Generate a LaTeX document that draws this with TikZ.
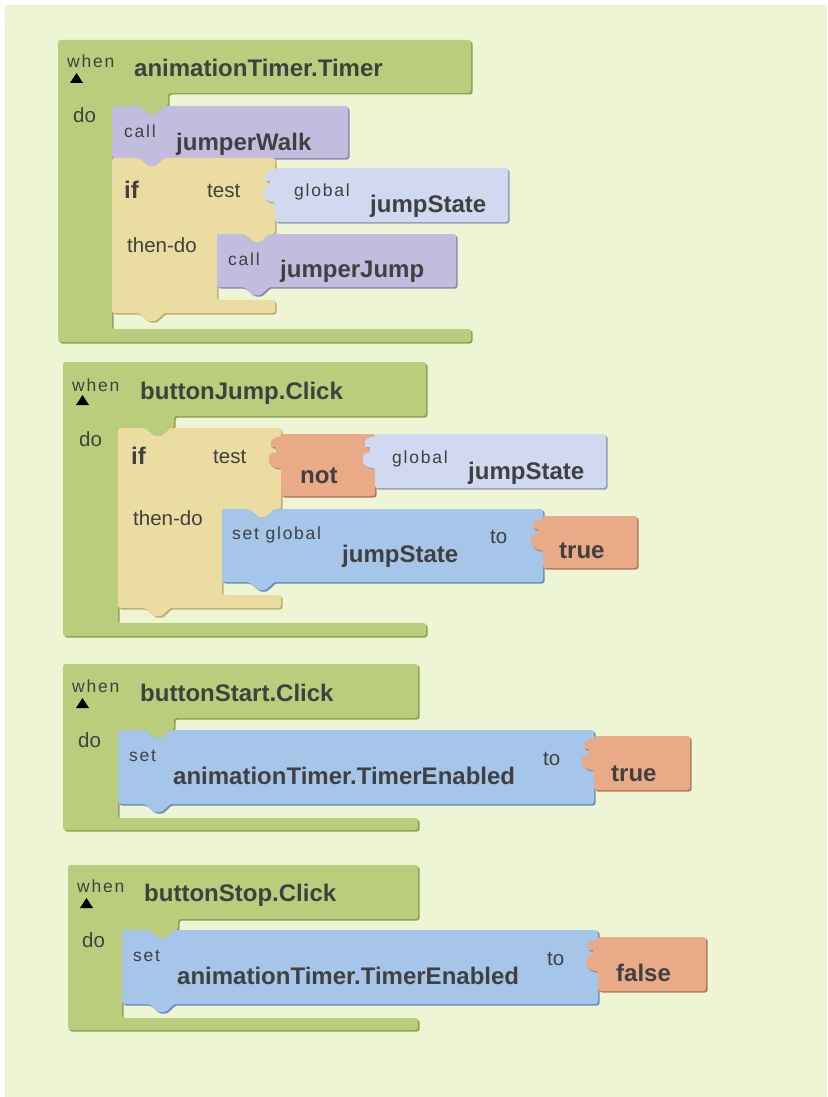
\documentclass[tikz,border=0pt]{standalone}
\usepackage{fontspec}
\setmainfont{Liberation Sans}
\newfontfamily\spacedfont[LetterSpace=10]{Liberation Sans}

\definecolor{canvas}{HTML}{EDF5D4}
\definecolor{lbl}{HTML}{404040}
\definecolor{evtgreen}{HTML}{BACD7C}
\definecolor{evtgreenD}{HTML}{8CA152}
\definecolor{procpurple}{HTML}{C2BDDF}
\definecolor{procpurpleD}{HTML}{8E89B2}
\definecolor{ctlyellow}{HTML}{EBDCA2}
\definecolor{ctlyellowD}{HTML}{BDAD6E}
\definecolor{varblue}{HTML}{D0D9EF}
\definecolor{varblueD}{HTML}{8E9BBA}
\definecolor{setblue}{HTML}{A5C5E9}
\definecolor{setblueD}{HTML}{6A8DB8}
\definecolor{logorange}{HTML}{E9AB87}
\definecolor{logorangeD}{HTML}{B0785A}

\tikzset{
  block/.style={rounded corners=2.5pt},
  kw/.style={text=lbl, inner sep=0pt, anchor=base west, font=\fontsize{20.5}{20.5}\selectfont},
  smalltag/.style={text=lbl, inner sep=0pt, anchor=base west, font=\spacedfont\fontsize{17.5}{17.5}\selectfont},
  ident/.style={text=lbl, inner sep=0pt, anchor=base west, font=\bfseries\fontsize{24}{24}\selectfont},
  whenmark/.style={fill=black}
}

% colour, x, y, path
\newcommand{\shadedpath}[4]{%
  \fill[block,#1D,shift={(#2+1.5,#3+1.5)}] #4;
  \fill[block,#1,shift={(#2,#3)}] #4;
}
% colour, x, y, w, h
\newcommand{\stmtblock}[5]{%
  \shadedpath{#1}{#2}{#3}{(0,0) -- (22,0) .. controls (30,0) and (34,8) .. (40,8) .. controls (46,8) and (50,0) .. (56,0)
    -- (#4,0) -- (#4,#5) -- (56,#5) .. controls (50,#5) and (46,#5+8) .. (40,#5+8) .. controls (34,#5+8) and (30,#5) .. (22,#5)
    -- (0,#5) -- cycle}}
% colour, x, y, w, h
\newcommand{\valblock}[5]{%
  \shadedpath{#1}{#2}{#3}{(0,0) -- (#4,0) -- (#4,#5) -- (0,#5) -- (0,34)
    .. controls (-6,34) and (-12,31) .. (-12,25) .. controls (-12,18) and (-5,19) .. (-5,16)
    .. controls (-5,13) and (-10,13) .. (-10,10) .. controls (-10,6) and (-6,3) .. (0,3) -- cycle}}
% x, y, bar w, bar h, column w, mouth top, bottom bar top, bottom
\newcommand{\eventblock}[8]{%
  \shadedpath{evtgreen}{#1}{#2}{(0,0) -- (#3,0) -- (#3,#4) -- (#5+56,#4) -- (#5+56,#6)
    .. controls (#5+50,#6) and (#5+46,#6+8) .. (#5+40,#6+8) .. controls (#5+34,#6+8) and (#5+30,#6) .. (#5+22,#6)
    -- (#5,#6) -- (#5,#7) -- (#3,#7) -- (#3,#8) -- (0,#8) -- cycle}}
% x, y, w, column w, mouth top, bottom bar top, bottom
\newcommand{\ifblock}[7]{%
  \shadedpath{ctlyellow}{#1}{#2}{(0,0) -- (22,0) .. controls (30,0) and (34,8) .. (40,8) .. controls (46,8) and (50,0) .. (56,0)
    -- (#3,0) -- (#3,#5) -- (#4+56,#5)
    .. controls (#4+50,#5) and (#4+46,#5+8) .. (#4+40,#5+8) .. controls (#4+34,#5+8) and (#4+30,#5) .. (#4+22,#5)
    -- (#4,#5) -- (#4,#6) -- (#3,#6) -- (#3,#7) -- (56,#7)
    .. controls (50,#7) and (46,#7+8) .. (40,#7+8) .. controls (34,#7+8) and (30,#7) .. (22,#7)
    -- (0,#7) -- cycle}}

\begin{document}
\begin{tikzpicture}[x=1pt,y=-1pt]
  \useasboundingbox (0,0) rectangle (827,1097);
  \fill[white] (0,0) rectangle (827,1097);
  \fill[canvas] (5,5) rectangle (827,1097);

  % animationTimer.Timer
  \eventblock{58}{40}{413}{53}{54}{66}{289}{302}
  \stmtblock{procpurple}{112}{106}{236}{52}
  \ifblock{112}{158}{163}{105}{76}{142}{155}
  \valblock{varblue}{275}{168}{233}{54}
  \stmtblock{procpurple}{217}{234}{239}{53}

  \node[smalltag] (when1) at (67,68) {when};
  \fill[whenmark] (70,83) -- (83,83) -- (76.5,73) -- cycle;
  \node[ident] (timer) at (134,77) {animationTimer.Timer};
  \node[kw] (do1) at (73,123) {do};
  \node[smalltag] (call1) at (124,137) {call};
  \node[ident] (walk) at (176,150) {jumperWalk};
  \node[ident] (if1) at (124,198) {if};
  \node[kw] (test1) at (207,197) {test};
  \node[smalltag] (glob1) at (294,196) {global};
  \node[ident] (state1) at (370,212) {jumpState};
  \node[kw] (then1) at (127,252) {then-do};
  \node[smalltag] (call2) at (228,265) {call};
  \node[ident] (jump) at (280,277) {jumperJump};

  % buttonJump.Click
  \eventblock{63}{362}{363}{54}{55}{66}{261}{274}
  \ifblock{118}{428}{163}{104}{81}{167}{180}
  \valblock{logorange}{281}{434}{94}{62}
  \valblock{varblue}{375}{434}{231}{54}
  \stmtblock{setblue}{222}{509}{321}{73}
  \valblock{logorange}{543}{516}{94}{52}

  \node[smalltag] (when2) at (72,391) {when};
  \fill[whenmark] (76,405) -- (89,405) -- (82.5,395) -- cycle;
  \node[ident] (jumpclick) at (140,399) {buttonJump.Click};
  \node[kw] (do2) at (79,446) {do};
  \node[ident] (if2) at (131,464) {if};
  \node[kw] (test2) at (213,463) {test};
  \node[ident] (not) at (300,483) {not};
  \node[smalltag] (glob2) at (392,463) {global};
  \node[ident] (state2) at (468,479) {jumpState};
  \node[kw] (then2) at (133,525) {then-do};
  \node[smalltag] (setglob) at (232,539) {set global};
  \node[ident] (state3) at (342,562) {jumpState};
  \node[kw] (to2) at (490,543) {to};
  \node[ident] (true2) at (559,558) {true};

  % buttonStart.Click
  \eventblock{63}{664}{355}{54}{55}{66}{154}{166}
  \stmtblock{setblue}{118}{730}{476}{74}
  \valblock{logorange}{594}{736}{96}{54}

  \node[smalltag] (when3) at (72,692) {when};
  \fill[whenmark] (76,708) -- (89,708) -- (82.5,698) -- cycle;
  \node[ident] (startclick) at (140,701) {buttonStart.Click};
  \node[kw] (do3) at (78,747) {do};
  \node[smalltag] (set3) at (129,761) {set};
  \node[ident] (enabled3) at (173,784) {animationTimer.TimerEnabled};
  \node[kw] (to3) at (543,765) {to};
  \node[ident] (true3) at (611,781) {true};

  % buttonStop.Click
  \eventblock{68}{865}{350}{54}{54}{65}{153}{165}
  \stmtblock{setblue}{122}{930}{476}{74}
  \valblock{logorange}{598}{937}{108}{54}

  \node[smalltag] (when4) at (77,892) {when};
  \fill[whenmark] (80,908) -- (93,908) -- (86.5,898) -- cycle;
  \node[ident] (stopclick) at (144,901) {buttonStop.Click};
  \node[kw] (do4) at (82,947) {do};
  \node[smalltag] (set4) at (133,961) {set};
  \node[ident] (enabled4) at (177,984) {animationTimer.TimerEnabled};
  \node[kw] (to4) at (547,965) {to};
  \node[ident] (false4) at (616,981) {false};
\end{tikzpicture}
\end{document}
